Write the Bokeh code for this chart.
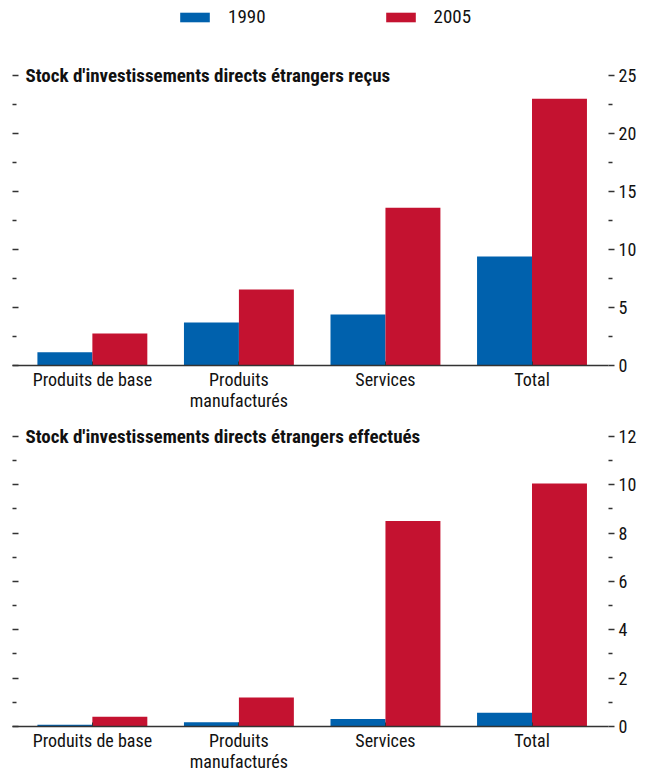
from bokeh.plotting import figure
from bokeh.models import (Range1d, LinearAxis, FixedTicker,
                          Label, Legend, LegendItem, ColumnDataSource)
from bokeh.transform import dodge
from bokeh.layouts import column
from bokeh.embed import file_html
from bokeh.resources import INLINE

# ---- data ----
categories = ["Produits de base", "Produits\nmanufacturés", "Services", "Total"]
years = ["1990", "2005"]
recus_1990 = [1.15, 3.7, 4.4, 9.4]
recus_2005 = [2.75, 6.55, 13.6, 23.0]
effectues_1990 = [0.07, 0.18, 0.31, 0.57]
effectues_2005 = [0.4, 1.2, 8.5, 10.05]
titles = ["Stock d'investissements directs étrangers reçus",
          "Stock d'investissements directs étrangers effectués"]
y_max = [25, 12]
y_step = [5, 2]

BLUE = "#0061AD"
RED = "#C41230"
FONT = "'Roboto Condensed', Roboto"
AXC = "#333333"


def make_panel(title, v1990, v2005, ymax, step, range_top, frame_h, top_border, with_legend):
    src = ColumnDataSource(dict(x=list(range(len(categories))), v1990=v1990, v2005=v2005))
    majors = [i * step for i in range(int(ymax / step) + 1)]
    minors = [m + step / 2 for m in majors[:-1]]
    p = figure(frame_width=596, frame_height=frame_h,
               x_range=Range1d(-0.545, 3.522), y_range=Range1d(0, range_top),
               y_axis_location="right",
               output_backend="svg", toolbar_location=None,
               min_border_left=12, min_border_right=0,
               min_border_top=top_border, min_border_bottom=0)
    p.outline_line_color = None
    p.xgrid.visible = False
    p.ygrid.visible = False

    r1 = p.vbar(x=dodge("x", -0.1875), top="v1990", width=0.375, bottom=0,
                source=src, fill_color=BLUE, line_color=None)
    r2 = p.vbar(x=dodge("x", 0.1875), top="v2005", width=0.375, bottom=0,
                source=src, fill_color=RED, line_color=None)

    # right axis (labels)
    ya = p.yaxis[0]
    ya.ticker = FixedTicker(ticks=majors, minor_ticks=minors)
    ya.axis_line_color = None
    ya.major_tick_in = 0
    ya.major_tick_out = 6
    ya.minor_tick_in = 0
    ya.minor_tick_out = 4
    ya.major_tick_line_color = AXC
    ya.minor_tick_line_color = AXC
    ya.major_tick_line_width = 1.5
    ya.minor_tick_line_width = 1.5
    ya.major_label_standoff = 4
    ya.major_label_text_font = FONT
    ya.major_label_text_font_size = "18px"
    ya.major_label_text_color = "#111111"

    # left axis (ticks only)
    la = LinearAxis(ticker=FixedTicker(ticks=majors, minor_ticks=minors))
    la.axis_line_color = None
    la.major_tick_in = 6
    la.major_tick_out = 0
    la.minor_tick_in = 4
    la.minor_tick_out = 0
    la.major_tick_line_color = AXC
    la.minor_tick_line_color = AXC
    la.major_tick_line_width = 1.5
    la.minor_tick_line_width = 1.5
    la.major_label_overrides = {m: "" for m in majors}
    la.major_label_standoff = 0
    p.add_layout(la, "left")

    # x axis
    xa = p.xaxis[0]
    xa.ticker = FixedTicker(ticks=list(range(len(categories))))
    xa.major_label_overrides = {i: c for i, c in enumerate(categories)}
    xa.axis_line_color = AXC
    xa.axis_line_width = 1.5
    xa.major_tick_in = 4
    xa.major_tick_out = 0
    xa.major_tick_line_color = AXC
    xa.minor_tick_line_color = None
    xa.major_label_standoff = 3
    xa.major_label_text_font = FONT
    xa.major_label_text_font_size = "18px"
    xa.major_label_text_line_height = 1.0
    xa.major_label_text_color = "#111111"

    p.add_layout(Label(x=13, y=ymax, x_units="screen", y_units="data", text=title,
                       text_font=FONT, text_font_style="bold", text_font_size="19px",
                       text_baseline="middle", text_color="#111111"))

    if with_legend:
        leg = Legend(items=[LegendItem(label=years[0], renderers=[r1]),
                            LegendItem(label=years[1], renderers=[r2])],
                     orientation="horizontal", location=(164, 337),
                     glyph_width=37, glyph_height=12, label_standoff=15,
                     label_height=20, spacing=116, padding=0, margin=0,
                     border_line_color=None, background_fill_alpha=0,
                     label_text_font=FONT, label_text_font_size="19px",
                     label_text_color="#111111")
        p.add_layout(leg)
    return p


# panel 1: frame spans from the page top (legend area) down to baseline (11.6 px per unit)
p1 = make_panel(titles[0], recus_1990, recus_2005, y_max[0], y_step[0],
                365 / 11.6, 365, 0, True)
# panel 2: 24.17 px per unit
p2 = make_panel(titles[1], effectues_1990, effectues_2005, y_max[1], y_step[1],
                304 / 24.1667, 304, 9, False)

layout = column(p1, p2, spacing=0)
open("out.html", "w").write(file_html(layout, INLINE))
